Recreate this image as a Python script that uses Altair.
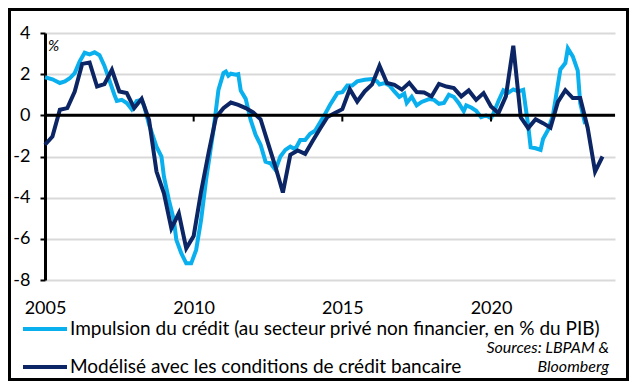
import altair as alt
import pandas as pd

# Light-blue series (monthly observations, month offset from Jan 2005)
impulse_months = [0, 3, 6, 8, 10, 12, 14, 16, 18, 20, 22, 24, 26, 28, 29, 31, 33, 35, 37, 39,
                  40, 42, 45, 47, 48, 50, 52, 53, 55, 57, 59, 61, 63, 65, 68, 70, 72, 73, 74, 75,
                  77, 78, 79, 81, 83, 85, 87, 89, 91, 93, 95, 97, 99, 101, 103, 105, 107, 109, 111, 113,
                  115, 118, 120, 122, 124, 126, 129, 132, 134, 135, 137, 139, 141, 143, 145, 146, 148, 150, 152, 155,
                  157, 159, 161, 163, 165, 167, 169, 170, 172, 174, 176, 178, 180, 181, 183, 185, 187, 189, 191, 193,
                  195, 196, 198, 200, 201, 203, 205, 207, 208, 210, 211, 213, 215, 216, 218]
impulse_values = [1.85, 1.75, 1.57, 1.65, 1.8, 2.05, 2.62, 3.04, 2.96, 3.06, 2.92, 2.4, 1.7, 1.0, 0.7, 0.75, 0.6, 0.3, 0.7, 0.75,
                  0.45, -0.45, -1.52, -2.0, -2.98, -4.11, -5.08, -6.05, -6.7, -7.19, -7.19, -6.54, -5.08, -3.14, -0.71, 1.24, 2.05, 2.13, 1.92, 2.02,
                  1.97, 2.0, 1.2, 0.8, -0.22, -0.95, -1.43, -2.25, -2.33, -2.65, -2.0, -1.68, -1.52, -1.65, -1.2, -1.2, -0.9, -0.75, -0.35, 0.06,
                  0.5, 1.08, 1.12, 1.45, 1.45, 1.65, 1.73, 1.76, 1.65, 1.5, 1.57, 1.45, 1.16, 0.9, 1.05, 0.6, 0.9, 0.48, 0.65, 0.79,
                  0.75, 0.56, 0.6, 1.0, 0.9, 0.59, 0.2, 0.48, 0.38, 0.22, -0.09, 0.0, -0.14, 0.1, 0.7, 1.22, 1.1, 1.26, 1.16, 1.24,
                  -0.5, -1.55, -1.6, -1.68, -1.15, -0.71, 0.0, 1.5, 2.23, 2.54, 3.25, 2.86, 2.17, 0.59, -0.42]

# Navy series (quarterly, starting 2005 Q1)
model_values = [-1.43, -1.03, 0.27, 0.35, 1.16, 2.5, 2.57, 1.4, 1.52, 2.21, 1.16, 1.08,
                0.35, 0.8, -0.22, -2.73, -3.79, -5.49, -4.76, -6.46, -5.86, -3.7, -1.84, -0.1,
                0.35, 0.62, 0.51, 0.35, 0.14, -0.19, -1.35, -2.5, -3.75, -1.92, -1.71, -1.87,
                -1.25, -0.65, -0.08, 0.11, 0.3, 1.27, 0.67, 1.16, 1.5, 2.41, 1.57, 1.48,
                1.25, 1.58, 1.13, 1.11, 0.92, 1.53, 1.4, 1.32, 0.92, 1.21, 0.75, 1.08,
                0.43, 0.11, 0.92, 3.38, -0.1, -0.62, -0.19, -0.38, -0.6, 0.65, 1.22, 0.84,
                0.84, -0.6, -2.73, -2.0]

x_tick_years = [2005, 2010, 2015, 2020]
marker_years = [2010, 2015, 2020]
y_ticks = [-8, -6, -4, -2, 0, 2, 4]

LIGHT = "#0ab0ee"
NAVY = "#0b2565"
FONT = "Lato"

imp_df = pd.DataFrame({"year": [2005 + m / 12 for m in impulse_months], "value": impulse_values})
mod_df = pd.DataFrame({"year": [2005 + i / 4 for i in range(len(model_values))], "value": model_values})
zero_df = pd.DataFrame({"y": [0]})
mark_df = pd.DataFrame({"year": marker_years, "y": [0] * len(marker_years), "y2": [-0.3] * len(marker_years)})

x_scale = alt.Scale(domain=[2005, 2024.17], nice=False, zero=False)
y_scale = alt.Scale(domain=[-8, 4], nice=False, zero=False)

x_axis = alt.Axis(values=x_tick_years, labelExpr="'' + datum.value", domain=False, ticks=False,
                  tickSize=0, grid=False, labelFont=FONT, labelFontSize=18, labelColor="black",
                  labelPadding=19, labelFlush=False, labelOverlap=False, title=None)
y_axis = alt.Axis(values=y_ticks, labelExpr="'' + datum.value", domain=True, domainColor="black",
                  domainWidth=3, ticks=True, tickColor="black", tickWidth=2, tickSize=5,
                  grid=True, gridColor="#d9d9d9", gridWidth=2, labelFont=FONT, labelFontSize=18,
                  labelColor="black", labelPadding=10, title=None)

imp_line = alt.Chart(imp_df).mark_line(color=LIGHT, strokeWidth=4).encode(
    x=alt.X("year:Q", scale=x_scale, axis=x_axis),
    y=alt.Y("value:Q", scale=y_scale, axis=y_axis),
)
mod_line = alt.Chart(mod_df).mark_line(color=NAVY, strokeWidth=4).encode(
    x=alt.X("year:Q", scale=x_scale),
    y=alt.Y("value:Q", scale=y_scale),
)
zero_rule = alt.Chart(zero_df).mark_rule(color="black", strokeWidth=3).encode(
    y=alt.Y("y:Q", scale=y_scale)
)
tick_marks = alt.Chart(mark_df).mark_rule(color="black", strokeWidth=2).encode(
    x=alt.X("year:Q", scale=x_scale),
    y=alt.Y("y:Q", scale=y_scale),
    y2="y2:Q",
)

pct = alt.Chart(zero_df).mark_text(text="%", font=FONT, fontSize=15, fontStyle="italic",
                                   align="left", baseline="middle", color="black").encode(
    x=alt.value(3), y=alt.value(13))

leg1_line = alt.Chart(zero_df).mark_rule(color=LIGHT, strokeWidth=4).encode(
    x=alt.value(-22), x2=alt.value(22), y=alt.value(296))
leg2_line = alt.Chart(zero_df).mark_rule(color=NAVY, strokeWidth=4).encode(
    x=alt.value(-22), x2=alt.value(22), y=alt.value(334))
leg1_text = alt.Chart(zero_df).mark_text(
    text="Impulsion du crédit (au secteur privé non financier, en % du PIB)",
    font=FONT, fontSize=19, align="left", baseline="middle", color="black").encode(
    x=alt.value(25), y=alt.value(296))
leg2_text = alt.Chart(zero_df).mark_text(
    text="Modélisé avec les conditions de crédit bancaire",
    font=FONT, fontSize=19, align="left", baseline="middle", color="black").encode(
    x=alt.value(25), y=alt.value(334))
src1 = alt.Chart(zero_df).mark_text(
    text="Sources: LBPAM &", font=FONT, fontSize=16, fontStyle="italic",
    align="right", baseline="middle", color="black").encode(
    x=alt.value(564), y=alt.value(315))
src2 = alt.Chart(zero_df).mark_text(
    text="Bloomberg", font=FONT, fontSize=16, fontStyle="italic",
    align="right", baseline="middle", color="black").encode(
    x=alt.value(564), y=alt.value(334))

frame = alt.Chart(zero_df).mark_rect(filled=False, stroke="black", strokeWidth=3).encode(
    x=alt.value(-35.5), x2=alt.value(582.5), y=alt.value(-23.5), y2=alt.value(346.5))

chart = alt.layer(
    imp_line, mod_line, zero_rule, tick_marks, pct,
    leg1_line, leg2_line, leg1_text, leg2_text, src1, src2, frame
).properties(
    width=570, height=247,
    padding={"left": 37, "top": 25, "right": 14, "bottom": 101},
    autosize=alt.AutoSizeParams(type="none"),
    background="white",
).configure_view(stroke=None)

chart.save("out.html", embed_options={"renderer": "svg", "actions": False})
